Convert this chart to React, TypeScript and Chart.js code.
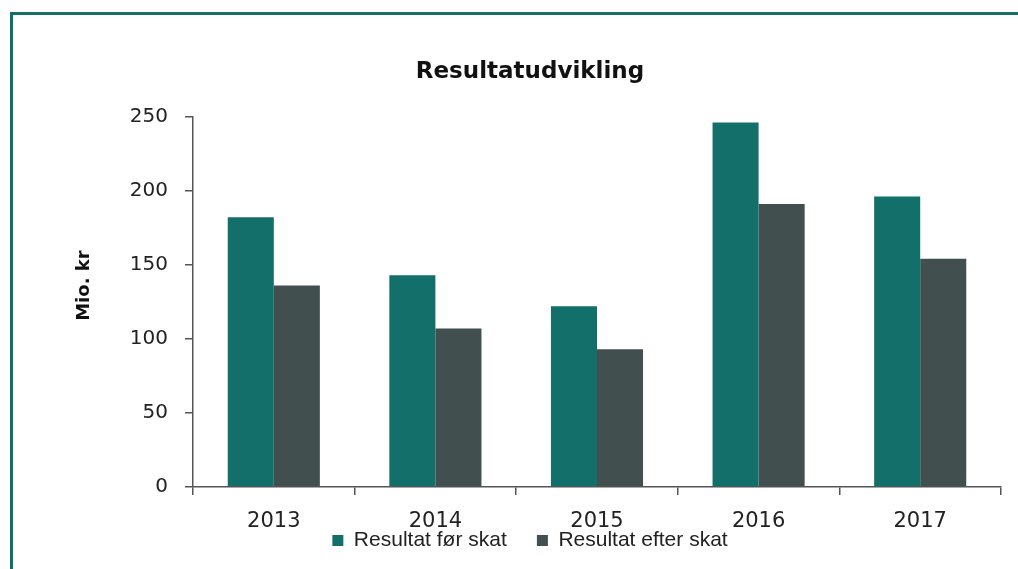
import React, { useEffect, useRef } from "react";
import { Chart, registerables } from "chart.js";

Chart.register(...registerables);

const TITLE = "Resultatudvikling";
const Y_TITLE = "Mio. kr";
const categories = ["2013", "2014", "2015", "2016", "2017"];
const seriesNames = ["Resultat før skat", "Resultat efter skat"];
const beforeTax = [182, 143, 122, 246, 196];
const afterTax = [136, 107, 93, 191, 154];
const yTicks = [0, 50, 100, 150, 200, 250];

const TEAL = "#126f69";
const GREY = "#41504f";
const AXIS = "#555555";

const yTitlePlugin = {
  id: "yTitle",
  afterDraw(chart: any) {
    const { ctx, chartArea } = chart;
    ctx.save();
    ctx.translate(chartArea.left - 109, chartArea.top + 169);
    ctx.rotate(-Math.PI / 2);
    ctx.font = 'bold 18px "DejaVu Sans"';
    ctx.fillStyle = "#111111";
    ctx.textAlign = "center";
    ctx.textBaseline = "middle";
    ctx.fillText(Y_TITLE, 0, 0);
    ctx.restore();
  },
};

export default function App() {
  const ref = useRef<HTMLCanvasElement | null>(null);

  useEffect(() => {
    if (!ref.current) return;
    const chart = new Chart(ref.current, {
      type: "bar",
      data: {
        labels: categories,
        datasets: [
          {
            label: seriesNames[0],
            data: beforeTax,
            backgroundColor: TEAL,
            borderWidth: 0,
            categoryPercentage: 0.57,
            barPercentage: 1,
          },
          {
            label: seriesNames[1],
            data: afterTax,
            backgroundColor: GREY,
            borderWidth: 0,
            categoryPercentage: 0.57,
            barPercentage: 1,
          },
        ],
      },
      options: {
        responsive: true,
        maintainAspectRatio: false,
        animation: false,
        layout: { padding: { left: 59, right: 59, top: 0, bottom: 8 } },
        plugins: {
          title: {
            display: true,
            text: TITLE,
            color: "#111111",
            font: { family: '"DejaVu Sans"', size: 23, weight: "bold" },
            padding: { top: 58, bottom: 31 },
          },
          legend: {
            position: "bottom",
            labels: {
              boxWidth: 11,
              boxHeight: 11,
              padding: 1,
              color: "#222222",
              font: { family: '"Liberation Sans"', size: 21 },
              generateLabels(chart: any) {
                const items = Chart.defaults.plugins.legend.labels.generateLabels(chart);
                return items.map((it: any, i: number) => ({
                  ...it,
                  text: i < items.length - 1 ? it.text + "     " : it.text,
                  lineWidth: 0,
                }));
              },
            },
          },
          tooltip: { enabled: false },
        },
        scales: {
          x: {
            grid: {
              drawOnChartArea: false,
              drawTicks: true,
              tickLength: 8,
              color: AXIS,
              lineWidth: 1.5,
            },
            border: { display: true, color: AXIS, width: 1.5 },
            ticks: {
              color: "#222222",
              padding: 14,
              font: { family: '"DejaVu Sans"', size: 21 },
            },
            afterFit(scale: any) {
              scale.height = 42;
            },
          },
          y: {
            min: 0,
            max: 250,
            afterBuildTicks(scale: any) {
              scale.ticks = yTicks.map((v) => ({ value: v }));
            },
            grid: {
              drawOnChartArea: false,
              drawTicks: true,
              tickLength: 8,
              color: AXIS,
              lineWidth: 1.5,
            },
            border: { display: true, color: AXIS, width: 1.5 },
            ticks: {
              color: "#222222",
              padding: 17,
              font: { family: '"DejaVu Sans"', size: 20 },
            },
            afterFit(scale: any) {
              scale.width = 134;
            },
          },
        },
      },
      plugins: [yTitlePlugin],
    });
    return () => chart.destroy();
  }, []);

  return (
    <div
      style={{
        position: "fixed",
        left: 0,
        top: 0,
        width: 1018,
        height: 569,
        overflow: "hidden",
        background: "#ffffff",
      }}
    >
      <div
        style={{
          position: "absolute",
          left: 10,
          top: 12,
          width: 1100,
          height: 700,
          borderLeft: `3px solid ${TEAL}`,
          borderTop: `3px solid ${TEAL}`,
        }}
      />
      <div style={{ position: "absolute", left: 0, top: 0, width: 1060, height: 569 }}>
        <canvas ref={ref} />
      </div>
    </div>
  );
}
